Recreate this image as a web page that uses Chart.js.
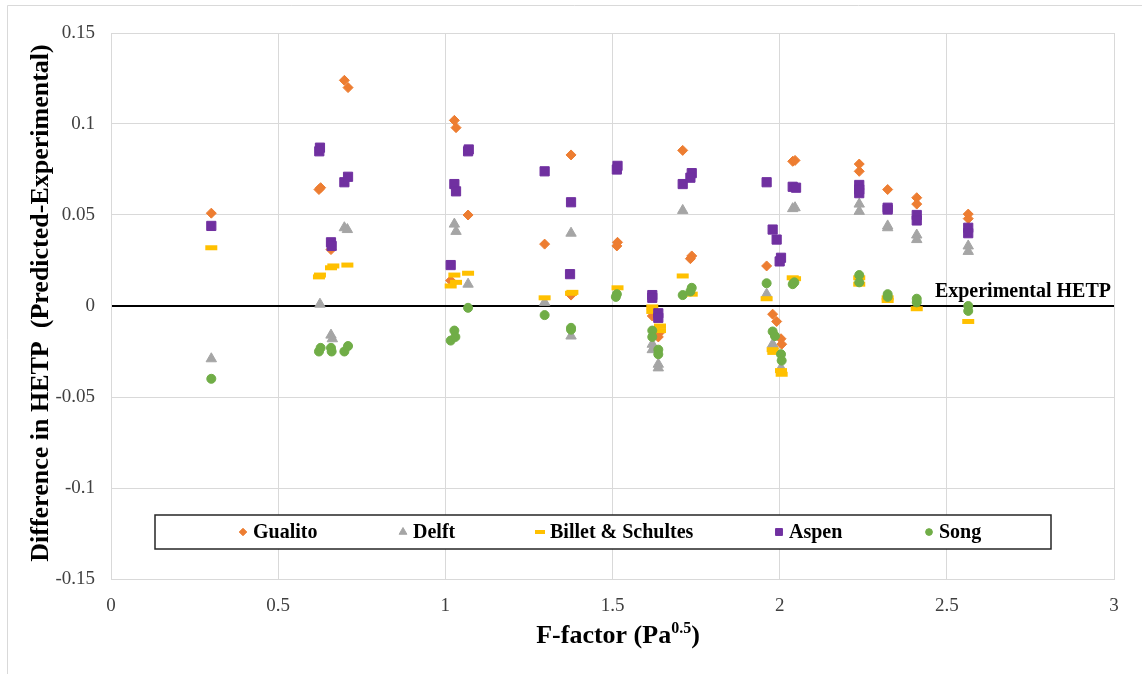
<!DOCTYPE html>
<html>
<head>
<meta charset="utf-8">
<title>HETP difference vs F-factor</title>
<script src="https://cdn.jsdelivr.net/npm/chart.js@4.4.1/dist/chart.umd.min.js"></script>
<style>
  html, body { margin: 0; padding: 0; background: #fff; }
  canvas { display: block; }
</style>
</head>
<body>
<canvas id="hetpChart" width="1142" height="674"></canvas>
<script>
// values: F-factor (Pa^0.5) and predicted - experimental HETP
const gualitoF = [0.30, 0.622, 0.627, 0.658, 0.698, 0.709, 1.016, 1.027, 1.032, 1.068, 1.297, 1.376, 1.376,
  1.513, 1.515, 1.619, 1.637, 1.639, 1.710, 1.737, 1.733, 1.961, 1.979, 1.991, 2.004, 2.006, 2.039, 2.046,
  2.238, 2.238, 2.323, 2.410, 2.410, 2.564, 2.564];
const gualitoDiff = [0.051, 0.064, 0.065, 0.031, 0.124, 0.120, 0.014, 0.102, 0.098, 0.050, 0.034, 0.083, 0.006,
  0.033, 0.035, -0.0055, -0.017, -0.015, 0.0855, 0.0275, 0.026, 0.022, -0.0045, -0.0085, -0.018, -0.021, 0.0795, 0.080,
  0.078, 0.074, 0.064, 0.0595, 0.056, 0.0505, 0.048];

const delftF = [0.30, 0.625, 0.658, 0.662, 0.698, 0.707, 1.027, 1.032, 1.068, 1.297, 1.376, 1.376,
  1.619, 1.619, 1.637, 1.637, 1.710, 1.961, 1.979, 1.981, 2.004, 2.039, 2.046,
  2.238, 2.238, 2.323, 2.323, 2.410, 2.410, 2.564, 2.564];
const delftDiff = [-0.029, 0.001, -0.016, -0.018, 0.043, 0.042, 0.045, 0.041, 0.012, 0.002, 0.040, -0.0165,
  -0.021, -0.024, -0.032, -0.034, 0.0525, 0.0065, -0.021, -0.022, -0.034, 0.0535, 0.054,
  0.056, 0.052, 0.043, 0.044, 0.039, 0.0365, 0.033, 0.030];

const billetF = [0.30, 0.622, 0.625, 0.658, 0.665, 0.707, 1.016, 1.027, 1.032, 1.068, 1.297, 1.376, 1.380,
  1.515, 1.619, 1.619, 1.642, 1.642, 1.710, 1.737, 1.961, 1.979, 1.981, 2.004, 2.006, 2.039, 2.046,
  2.238, 2.238, 2.323, 2.323, 2.410, 2.564];
const billetDiff = [0.032, 0.016, 0.017, 0.021, 0.022, 0.0225, 0.011, 0.017, 0.013, 0.018, 0.0045, 0.007, 0.0075,
  0.010, -0.0005, -0.003, -0.011, -0.0135, 0.0165, 0.0065, 0.004, -0.024, -0.0255, -0.0355, -0.0375, 0.0155, 0.015,
  0.0155, 0.012, 0.0045, 0.003, -0.0015, -0.0085];

const aspenF = [0.30, 0.623, 0.625, 0.658, 0.660, 0.698, 0.709, 1.016, 1.027, 1.032, 1.068, 1.070, 1.297, 1.376, 1.373,
  1.513, 1.515, 1.619, 1.619, 1.637, 1.637, 1.710, 1.737, 1.733, 1.961, 1.979, 1.991, 2.004, 2.000, 2.039, 2.049,
  2.238, 2.238, 2.238, 2.323, 2.323, 2.410, 2.410, 2.564, 2.564];
const aspenDiff = [0.044, 0.085, 0.087, 0.035, 0.033, 0.068, 0.071, 0.0225, 0.067, 0.063, 0.085, 0.086, 0.074, 0.057, 0.0175,
  0.075, 0.077, 0.006, 0.0045, -0.004, -0.0065, 0.067, 0.073, 0.0705, 0.068, 0.042, 0.0365, 0.0265, 0.0245, 0.0655, 0.065,
  0.0665, 0.064, 0.062, 0.054, 0.053, 0.050, 0.047, 0.043, 0.040];

const songF = [0.30, 0.622, 0.627, 0.658, 0.660, 0.698, 0.709, 1.016, 1.027, 1.030, 1.068, 1.297, 1.376, 1.376,
  1.513, 1.510, 1.619, 1.619, 1.637, 1.637, 1.710, 1.737, 1.733, 1.961, 1.979, 1.986, 2.004, 2.006, 2.039, 2.044,
  2.238, 2.238, 2.323, 2.323, 2.410, 2.410, 2.564, 2.564];
const songDiff = [-0.040, -0.025, -0.023, -0.023, -0.025, -0.025, -0.022, -0.019, -0.0135, -0.017, -0.001, -0.005, -0.012, -0.013,
  0.0065, 0.005, -0.0135, -0.017, -0.024, -0.0265, 0.006, 0.010, 0.008, 0.0125, -0.014, -0.0165, -0.0265, -0.030, 0.012, 0.013,
  0.017, 0.013, 0.0065, 0.005, 0.004, 0.002, 0.000, -0.0027];

const xTicks = [0, 0.5, 1, 1.5, 2, 2.5, 3];
const yTicks = [-0.15, -0.1, -0.05, 0, 0.05, 0.1, 0.15];

const serif = "'Liberation Serif', 'Times New Roman', serif";
Chart.defaults.font.family = serif;

function pts(xs, ys) {
  return xs.map((x, i) => ({x: x, y: ys[i]}));
}

function series(label, xs, ys, color, style, radius, order, extra) {
  return Object.assign({
    label: label,
    data: pts(xs, ys),
    backgroundColor: color,
    borderColor: color,
    pointStyle: style,
    pointRadius: radius,
    pointHoverRadius: radius,
    pointBorderWidth: 1,
    order: order
  }, extra || {});
}

// legend, titles and the zero-line label are drawn by hand, Excel style
const decor = {
  id: 'decor',
  beforeDraw(chart) {
    const c = chart.ctx;
    c.save();
    c.fillStyle = '#fff';
    c.fillRect(0, 0, chart.width, chart.height);
    c.strokeStyle = '#d9d9d9';
    c.lineWidth = 1;
    c.beginPath();
    c.moveTo(7.5, chart.height);
    c.lineTo(7.5, 5.5);
    c.lineTo(chart.width, 5.5);
    c.stroke();
    c.restore();
  },
  afterDraw(chart) {
    const c = chart.ctx;
    const a = chart.chartArea;
    const ys = chart.scales.y;
    c.save();
    c.fillStyle = '#000';

    // y title
    c.save();
    c.translate(41, 303);
    c.rotate(-Math.PI / 2);
    c.font = 'bold 26px ' + serif;
    c.textAlign = 'center';
    c.textBaseline = 'middle';
    c.fillText('Difference in HETP  (Predicted-Experimental)', 0, 0);
    c.restore();

    // x title with superscript
    const main = 'F-factor (Pa', sup = '0.5', tail = ')';
    const bigF = 'bold 26px ' + serif, supF = 'bold 16px ' + serif;
    c.font = bigF;
    const w1 = c.measureText(main).width, w3 = c.measureText(tail).width;
    c.font = supF;
    const w2 = c.measureText(sup).width;
    let tx = 618 - (w1 + w2 + w3) / 2;
    const ty = 643;
    c.textAlign = 'left';
    c.textBaseline = 'alphabetic';
    c.font = bigF;
    c.fillText(main, tx, ty);
    tx += w1;
    c.font = supF;
    c.fillText(sup, tx, ty - 10);
    tx += w2;
    c.font = bigF;
    c.fillText(tail, tx, ty);

    // zero line label
    c.font = 'bold 20px ' + serif;
    c.textAlign = 'right';
    c.fillText('Experimental HETP', a.right - 3, ys.getPixelForValue(0) - 9);

    // legend box
    const bx = a.left + 44, by = 515, bw = 896, bh = 34;
    c.fillStyle = '#fff';
    c.fillRect(bx, by, bw, bh);
    c.strokeStyle = '#262626';
    c.lineWidth = 1.5;
    c.strokeRect(bx, by, bw, bh);
    const marks = [243, 403, 540, 779, 929];
    const cy = by + bh / 2;
    chart.data.datasets.forEach((ds, i) => {
      const mx = marks[i];
      c.fillStyle = ds.backgroundColor;
      c.strokeStyle = ds.borderColor;
      const isLine = ds.pointStyle === 'line';
      c.lineWidth = isLine ? 4 : 1;
      Chart.helpers.drawPoint(c, {
        pointStyle: ds.pointStyle,
        radius: isLine ? 5 : ds.pointRadius * 0.75,
        rotation: 0,
        borderWidth: c.lineWidth
      }, mx, cy);
      c.fillStyle = '#000';
      c.font = 'bold 20px ' + serif;
      c.textAlign = 'left';
      c.textBaseline = 'middle';
      c.fillText(ds.label, mx + 10, cy + 1);
    });
    c.restore();
  }
};

const ctx = document.getElementById('hetpChart');
new Chart(ctx, {
  type: 'scatter',
  data: {
    datasets: [
      series('Gualito', gualitoF, gualitoDiff, '#ED7D31', 'rectRot', 5, 5),
      series('Delft', delftF, delftDiff, '#A5A5A5', 'triangle', 6, 4),
      series('Billet & Schultes', billetF, billetDiff, '#FFC000', 'line', 6, 3, {pointBorderWidth: 5}),
      series('Aspen', aspenF, aspenDiff, '#7030A0', 'rect', 6.5, 2),
      series('Song', songF, songDiff, '#70AD47', 'circle', 4.5, 1)
    ]
  },
  options: {
    responsive: false,
    animation: false,
    devicePixelRatio: 1,
    layout: {padding: {left: 0, top: 33, right: 28, bottom: 0}},
    plugins: {
      legend: {display: false},
      tooltip: {enabled: false}
    },
    scales: {
      x: {
        type: 'linear',
        min: 0,
        max: 3,
        afterBuildTicks: s => { s.ticks = xTicks.map(v => ({value: v})); },
        afterFit: s => { s.height = 95; },
        grid: {color: '#d9d9d9', lineWidth: 1, drawTicks: false},
        border: {color: '#d9d9d9'},
        ticks: {
          padding: 16,
          color: '#404040',
          font: {size: 19},
          maxRotation: 0,
          callback: v => String(Math.round(v * 10) / 10)
        }
      },
      y: {
        type: 'linear',
        min: -0.15,
        max: 0.15,
        afterBuildTicks: s => { s.ticks = yTicks.map(v => ({value: v})); },
        afterFit: s => { s.width = 111; },
        grid: {
          color: c => (c.tick && c.tick.value === 0 ? '#000' : '#d9d9d9'),
          lineWidth: c => (c.tick && c.tick.value === 0 ? 2 : 1),
          drawTicks: false
        },
        border: {color: '#d9d9d9'},
        ticks: {
          padding: 16,
          color: '#404040',
          font: {size: 19},
          callback: v => String(Math.round(v * 100) / 100)
        }
      }
    }
  },
  plugins: [decor]
});
</script>
</body>
</html>
